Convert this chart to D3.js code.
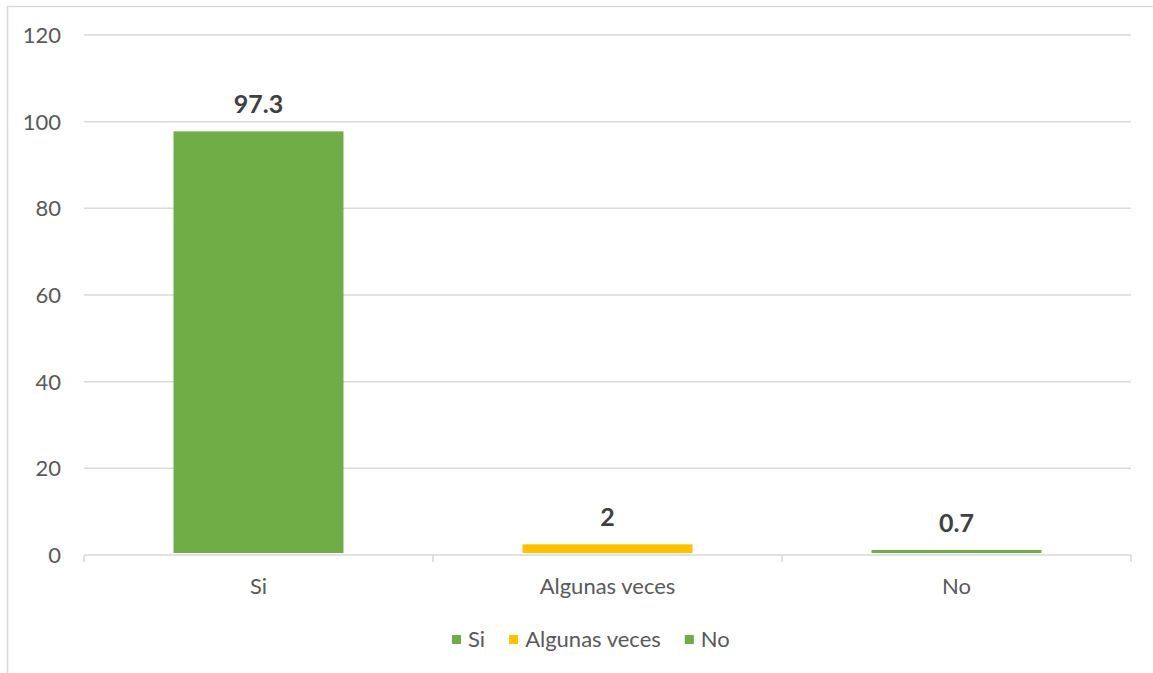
<!DOCTYPE html>
<html><head><meta charset="utf-8">
<script src="https://cdn.jsdelivr.net/npm/d3@7"></script>
<style>
html,body{margin:0;padding:0;background:#fff;}
svg{display:block;font-family:Lato,"Open Sans",sans-serif;}
</style></head>
<body>
<svg id="chart" width="1153" height="673"></svg>
<script>
const categories = ["Si", "Algunas veces", "No"];
const values = [97.3, 2, 0.7];
const colors = ["#70AD47", "#FFC000", "#70AD47"];
const yTicks = [0, 20, 40, 60, 80, 100, 120];

const svg = d3.select("#chart");
const plotLeft = 84, plotRight = 1131, plotTop = 35, plotBottom = 555;

// outer border (cropped on right/bottom)
svg.append("rect").attr("x", 7.5).attr("y", 6.5).attr("width", 1160).attr("height", 700)
  .attr("fill", "#fff").attr("stroke", "#d9d9d9").attr("stroke-width", 1.5);

const x = d3.scaleBand().domain(categories).range([plotLeft, plotRight]).padding(0);
const y = d3.scaleLinear().domain([0, 120]).range([plotBottom, plotTop]);

// gridlines
svg.append("g").selectAll("line").data(yTicks.filter(d => d > 0)).join("line")
  .attr("x1", plotLeft).attr("x2", plotRight)
  .attr("y1", d => y(d)).attr("y2", d => y(d))
  .attr("stroke", "#d9d9d9").attr("stroke-width", 1.5);

// y tick labels
svg.append("g").selectAll("text").data(yTicks).join("text")
  .attr("x", 61).attr("y", d => y(d)).attr("dy", "0.36em")
  .attr("text-anchor", "end").attr("font-size", 22).attr("fill", "#595959")
  .text(d => d);

// bars
const barFrac = 0.487;
const bw = x.bandwidth() * barFrac;
svg.append("g").selectAll("rect").data(values).join("rect")
  .attr("x", (d, i) => x(categories[i]) + (x.bandwidth() - bw) / 2)
  .attr("width", bw)
  .attr("y", d => y(d) - 2)
  .attr("height", d => Math.max(0, plotBottom - y(d)))
  .attr("fill", (d, i) => colors[i]);

// x axis line + ticks
const xa = svg.append("g");
xa.append("line").attr("x1", plotLeft).attr("x2", plotRight).attr("y1", plotBottom).attr("y2", plotBottom)
  .attr("stroke", "#d9d9d9").attr("stroke-width", 1.5);
const tickXs = categories.map(c => x(c)).concat([plotRight]);
xa.selectAll("line.tk").data(tickXs).join("line").attr("class", "tk")
  .attr("x1", d => d).attr("x2", d => d).attr("y1", plotBottom).attr("y2", plotBottom + 7)
  .attr("stroke", "#d9d9d9").attr("stroke-width", 1.5);

// category labels
svg.append("g").selectAll("text").data(categories).join("text")
  .attr("x", d => x(d) + x.bandwidth() / 2).attr("y", 594)
  .attr("text-anchor", "middle").attr("font-size", 22).attr("fill", "#595959")
  .text(d => d);

// data labels
svg.append("g").selectAll("text").data(values).join("text")
  .attr("x", (d, i) => x(categories[i]) + x.bandwidth() / 2)
  .attr("y", d => y(d) - 20)
  .attr("text-anchor", "middle").attr("font-size", 25).attr("font-weight", "bold")
  .attr("fill", "#404040")
  .text(d => d);

// legend
const legend = svg.append("g");
let lx = 452;
categories.forEach((c, i) => {
  legend.append("rect").attr("x", lx).attr("y", 635).attr("width", 9).attr("height", 9).attr("fill", colors[i]);
  const t = legend.append("text").attr("x", lx + 16).attr("y", 647)
    .attr("font-size", 22).attr("fill", "#595959").text(c);
  lx += 16 + t.node().getComputedTextLength() + 24;
});
</script>
</body></html>
